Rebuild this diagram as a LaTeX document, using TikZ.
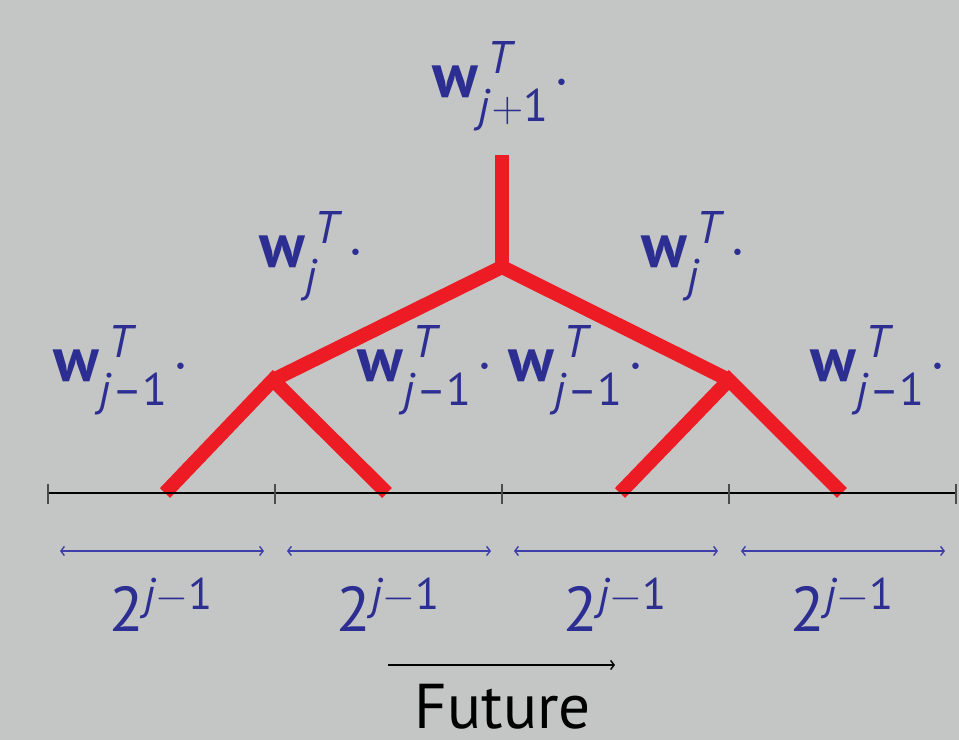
\documentclass[tikz,border=0pt]{standalone}
\usepackage{fontspec}
\setmainfont{PT Sans}
\usetikzlibrary{arrows.meta,positioning}
\definecolor{slidegray}{RGB}{196,198,197}
\definecolor{treered}{RGB}{237,28,36}
\definecolor{wblue}{RGB}{44,46,145}
\definecolor{spanblue}{RGB}{62,62,168}
\newcommand{\wsize}{\fontsize{13}{15}\selectfont}
\newcommand{\wvec}[1]{\textbf{w}\rlap{\raisebox{7.1pt}{\kern2.6pt\wsize\itshape T}}\raisebox{-6.8pt}{\wsize #1}\kern1.5pt$\cdot$}

\begin{document}
\begin{tikzpicture}[x=0.01cm, y=-0.01cm,
    branch/.style={line width=4pt, treered},
    wlabel/.style={anchor=base west, inner sep=0pt, wblue, font=\fontsize{18}{21}\selectfont},
    spanarrow/.style={spanblue, line width=0.4pt, {Straight Barb[length=1pt,width=2.6pt]}-{Straight Barb[length=1pt,width=2.6pt]}},
    tickmark/.style={line width=0.5pt, black!70}]
    \useasboundingbox[fill=slidegray] (0,0) rectangle (959,740);

    % Tree of filters
    \coordinate (top) at (502,155);
    \coordinate (fork) at (502,267);
    \coordinate (lmid) at (273,380);
    \coordinate (rmid) at (729,380);
    \coordinate (leaf1) at (165,493);
    \coordinate (leaf2) at (387,493);
    \coordinate (leaf3) at (620,493);
    \coordinate (leaf4) at (842,493);
    \draw[branch] (top) -- (fork);
    \draw[branch] (lmid) -- (fork) -- (rmid);
    \draw[branch] (leaf1) -- (lmid) -- (leaf2);
    \draw[branch] (leaf3) -- (rmid) -- (leaf4);

    % Labels
    \node[wlabel] (wtop) at (432,98) {\wvec{\textit{j}$+$1}};
    \node[wlabel] (wjl) at (259,268) {\wvec{\textit{j}\hphantom{\itshape T}}};
    \node[wlabel] (wjr) at (641,268) {\wvec{\textit{j}\hphantom{\itshape T}}};
    \node[wlabel] (wa) at (53,382) {\wvec{\textit{j}\textendash1}};
    \node[wlabel] (wb) at (357,382) {\wvec{\textit{j}\textendash1}};
    \node[wlabel] (wc) at (508,382) {\wvec{\textit{j}\textendash1}};
    \node[wlabel] (wd) at (810,382) {\wvec{\textit{j}\textendash1}};

    % Time axis
    \foreach \i in {0,...,4}
        \coordinate (tick\i) at (48+227*\i,493);
    \draw[line width=0.4pt] (tick0) -- (tick4);
    \foreach \i in {0,...,4}
        \draw[tickmark] ([yshift=2.6pt]tick\i) -- ([yshift=-3pt]tick\i);

    % Spans of 2^{j-1}
    \foreach \i in {0,...,3} {
        \coordinate (sa\i) at (60+227*\i,551);
        \coordinate (sb\i) at (264+227*\i,551);
        \draw[spanarrow] (sa\i) -- (sb\i);
        \node[anchor=base, inner sep=0pt, wblue, font=\fontsize{18}{21}\selectfont]
            (span\i) at (162+227*\i,632) {$\mathrm{2}^{\mathit{j}-\mathrm{1}}$};
    }

    % Future
    \coordinate (fa) at (388,665);
    \coordinate (fb) at (615,665);
    \draw[line width=0.4pt, -{Straight Barb[length=1pt,width=2.6pt]}] (fa) -- (fb);
    \node[anchor=base, inner sep=0pt, font=\fontsize{18}{21}\selectfont] (future) at (503,729) {Future};
\end{tikzpicture}
\end{document}
